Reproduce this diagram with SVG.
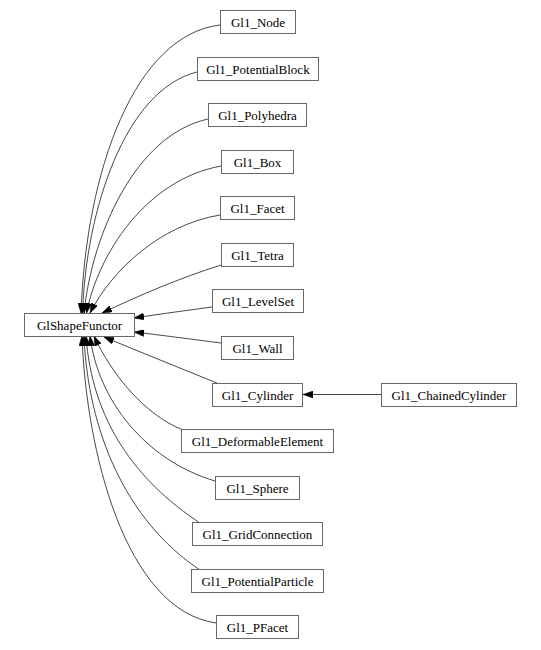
<svg xmlns="http://www.w3.org/2000/svg" width="541" height="650" viewBox="0 0 541 650">
<style>
.n rect{fill:#fff;stroke:#666;stroke-width:1}
.n text{font-size:13px;fill:#000;text-anchor:middle}
.e path{fill:none;stroke:#333;stroke-width:0.9;marker-end:url(#ah)}
</style>
<defs>
<marker id="ah" viewBox="0 0 10 7" markerUnits="userSpaceOnUse" markerWidth="10" markerHeight="7" refX="10" refY="3.5" orient="auto">
<path d="M0,0 L10,3.5 L0,7 z" fill="#000" stroke="#000" stroke-width="0.5"/>
</marker>
</defs>
<rect width="541" height="650" fill="#fff"/>
<g class="e" id="edges">
<path d="M220,25 C135,35 86,170 81,313"/>
<path d="M197,72 C125,90 86,210 82.5,313"/>
<path d="M208,119 C135,135 92,235 84,313"/>
<path d="M221,166 C145,180 98,255 86.5,313"/>
<path d="M220,215 C160,225 112,270 90,313"/>
<path d="M221,265 C180,278 140,295 102,313"/>
<path d="M212,307 C190,310 160,314 134,318"/>
<path d="M221,343 C190,339 160,335 134,332"/>
<path d="M217,383 C180,368 140,352 104,337"/>
<path d="M183,430 C145,415 112,375 94,336"/>
<path d="M215,481 C145,460 98,400 90,336"/>
<path d="M200,523 C135,480 92,420 86,336"/>
<path d="M200,570 C125,520 88,430 84,336"/>
<path d="M216,623 C125,610 86,450 82,336"/>
<path d="M381,394.5 L303,394.5"/>
</g>
<g font-family="Liberation Serif, Times New Roman, DejaVu Serif, serif">
<g class="n" id="GlShapeFunctor"><rect x="24.5" y="313.5" width="110" height="23"/><text x="79.5" y="329.5">GlShapeFunctor</text></g>
<g class="n" id="Gl1_Node"><rect x="220.5" y="10.5" width="75" height="23"/><text x="258" y="26.5">Gl1_Node</text></g>
<g class="n" id="Gl1_PotentialBlock"><rect x="197.5" y="57.5" width="121" height="23"/><text x="258" y="73.5">Gl1_PotentialBlock</text></g>
<g class="n" id="Gl1_Polyhedra"><rect x="208.5" y="103.5" width="98" height="23"/><text x="257.5" y="119.5">Gl1_Polyhedra</text></g>
<g class="n" id="Gl1_Box"><rect x="221.5" y="150.5" width="72" height="23"/><text x="257.5" y="166.5">Gl1_Box</text></g>
<g class="n" id="Gl1_Facet"><rect x="220.5" y="196.5" width="74" height="23"/><text x="257.5" y="212.5">Gl1_Facet</text></g>
<g class="n" id="Gl1_Tetra"><rect x="221.5" y="243.5" width="72" height="23"/><text x="257.5" y="259.5">Gl1_Tetra</text></g>
<g class="n" id="Gl1_LevelSet"><rect x="212.5" y="289.5" width="91" height="23"/><text x="258" y="305.5">Gl1_LevelSet</text></g>
<g class="n" id="Gl1_Wall"><rect x="221.5" y="336.5" width="72" height="23"/><text x="257.5" y="352.5">Gl1_Wall</text></g>
<g class="n" id="Gl1_Cylinder"><rect x="212.5" y="383.5" width="90" height="23"/><text x="257.5" y="399.5">Gl1_Cylinder</text></g>
<g class="n" id="Gl1_ChainedCylinder"><rect x="381.5" y="383.5" width="135" height="23"/><text x="449" y="399.5">Gl1_ChainedCylinder</text></g>
<g class="n" id="Gl1_DeformableElement"><rect x="181.5" y="429.5" width="152" height="23"/><text x="257.5" y="445.5">Gl1_DeformableElement</text></g>
<g class="n" id="Gl1_Sphere"><rect x="215.5" y="476.5" width="84" height="23"/><text x="257.5" y="492.5">Gl1_Sphere</text></g>
<g class="n" id="Gl1_GridConnection"><rect x="192.5" y="522.5" width="130" height="23"/><text x="257.5" y="538.5">Gl1_GridConnection</text></g>
<g class="n" id="Gl1_PotentialParticle"><rect x="191.5" y="569.5" width="132" height="23"/><text x="257.5" y="585.5">Gl1_PotentialParticle</text></g>
<g class="n" id="Gl1_PFacet"><rect x="216.5" y="615.5" width="82" height="23"/><text x="257.5" y="631.5">Gl1_PFacet</text></g>
</g>
</svg>
